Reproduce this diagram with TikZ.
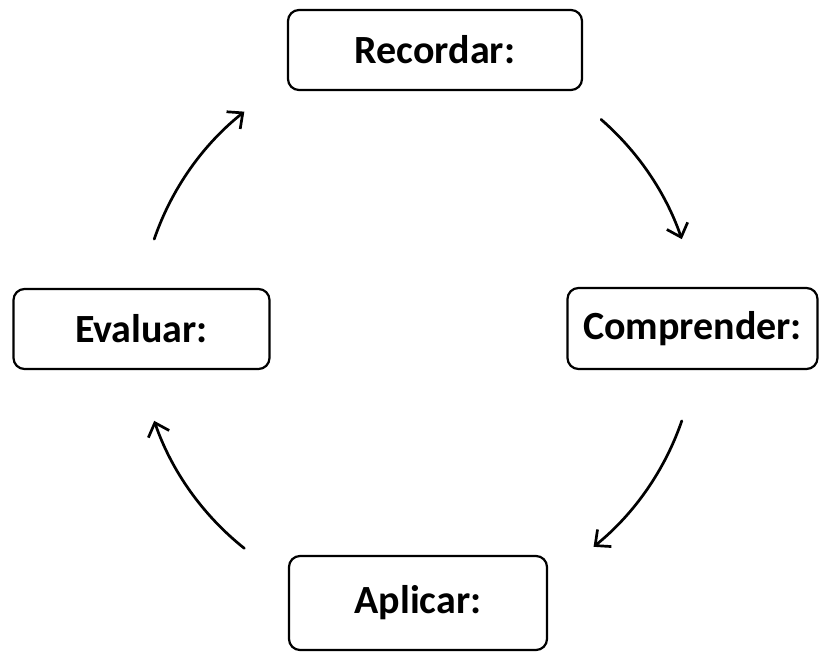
\documentclass[tikz,border=0pt]{standalone}
\usepackage{fontspec}
\setmainfont{Carlito}
\usetikzlibrary{arrows.meta,calc}
\begin{document}
\begin{tikzpicture}[x=1pt,y=1pt,
  box/.style={draw, line width=2.2pt, rounded corners=11pt, inner sep=0pt,
    font=\bfseries\fontsize{40}{45}\selectfont},
  cyc/.style={line width=2.7pt, line cap=round,
    -{Straight Barb[length=12pt,width=22pt,line width=2.7pt]}}]
\useasboundingbox (0,0) rectangle (820,653);
\node[box, minimum width=294, minimum height=80] (rec) at (435,603) {Recordar:};
\node[box, minimum width=250, minimum height=81] (com) at (692.5,324.5) {Comprender:};
\node[box, minimum width=258, minimum height=94] (apl) at (418,50) {Aplicar:};
\node[box, minimum width=256, minimum height=80] (eva) at (141.5,324) {Evaluar:};
\coordinate (c) at (418,323);
\coordinate (a1) at ($(c)+(49:279pt)$);
\coordinate (a2) at ($(c)+(-19:279pt)$);
\coordinate (a3) at ($(c)+(231.5:279pt)$);
\coordinate (a4) at ($(c)+(161:279pt)$);
\draw[cyc] (a1) arc[start angle=49, end angle=19, radius=279pt];
\draw[cyc] (a2) arc[start angle=-19, end angle=-51, radius=279pt];
\draw[cyc] (a3) arc[start angle=231.5, end angle=199, radius=279pt];
\draw[cyc] (a4) arc[start angle=161, end angle=128.5, radius=279pt];
\end{tikzpicture}
\end{document}
